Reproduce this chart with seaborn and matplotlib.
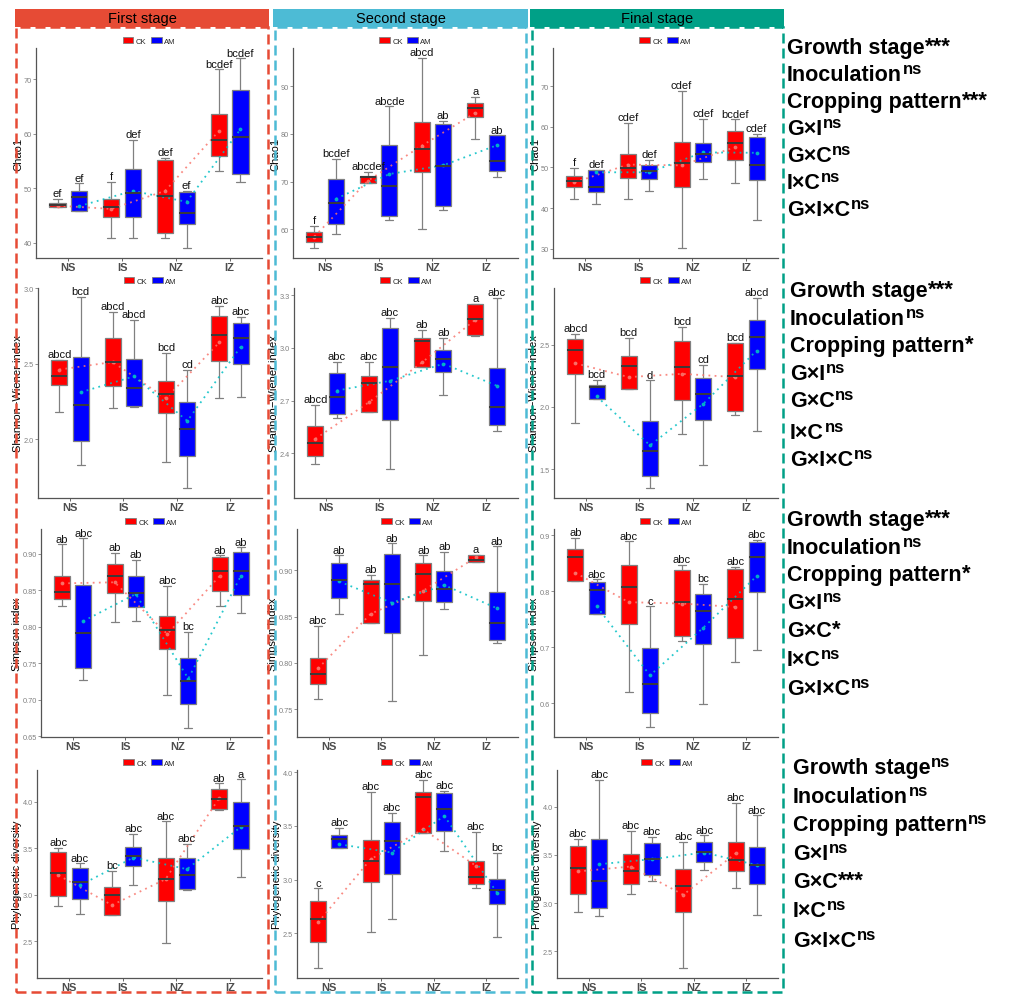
import numpy as np
import pandas as pd
import matplotlib
matplotlib.use("Agg")
import matplotlib.pyplot as plt
import seaborn as sns
from matplotlib.patches import Rectangle, Patch

# ---------------- data ----------------
groups = ["NS", "IS", "NZ", "IZ"]
treatments = ["CK", "AM"]
stages = ["First stage", "Second stage", "Final stage"]
metric_labels = ["Chao1", "Shannon\u2212Wiener index", "Simpson index", "Phylogenetic diversity"]

# box stats per group: [min, q1, median, q3, max]
chao1_s1_ck = [[46.5, 46.5, 46.85, 47.2, 48.0], [40.9, 44.7, 46.5, 48.0, 51.2], [40.9, 41.7, 48.5, 55.1, 55.6], [53.1, 55.9, 58.9, 63.6, 71.8]]
chao1_s1_am = [[45.8, 45.8, 48.4, 49.5, 50.9], [40.9, 44.7, 49.1, 53.6, 58.8], [39.0, 43.4, 45.5, 49.3, 49.5], [51.1, 52.6, 59.4, 68.0, 73.8]]
chao1_s1_ck_mean = [46.8, 46.2, 49.5, 60.5]
chao1_s1_am_mean = [46.7, 49.5, 47.5, 60.8]
chao1_s1_ck_sig = ["ef", "f", "def", "bcdef"]
chao1_s1_am_sig = ["ef", "def", "ef", "bcdef"]

chao1_s2_ck = [[56.0, 57.4, 58.5, 59.5, 60.8], [69.7, 69.7, 70.9, 71.2, 72.0], [60.1, 72.1, 76.9, 82.4, 95.9], [79.0, 83.5, 85.5, 86.4, 87.8]]
chao1_s2_am = [[59.0, 61.2, 65.5, 70.6, 74.8], [62.0, 62.7, 69.0, 77.7, 85.8], [64.1, 64.8, 73.3, 82.1, 82.8], [71.0, 72.3, 74.3, 79.7, 79.7]]
chao1_s2_ck_mean = [58.5, 70.2, 77.5, 84.4]
chao1_s2_am_mean = [66.4, 71.6, 73.4, 77.6]
chao1_s2_ck_sig = ["f", "abcdef", "abcd", "a"]
chao1_s2_am_sig = ["bcdef", "abcde", "ab", "ab"]

chao1_s3_ck = [[42.2, 45.1, 46.7, 47.8, 49.9], [42.2, 47.3, 49.9, 53.4, 61.0], [30.1, 45.1, 51.0, 56.2, 68.9], [46.2, 51.8, 56.0, 58.9, 61.8]]
chao1_s3_am = [[41.1, 44.0, 45.1, 49.4, 49.4], [44.1, 47.2, 49.1, 50.5, 51.8], [47.2, 51.4, 53.4, 55.9, 62.0], [37.1, 46.8, 50.5, 57.4, 58.3]]
chao1_s3_ck_mean = [46.3, 50.7, 50.5, 55.0]
chao1_s3_am_mean = [48.8, 48.8, 53.7, 53.6]
chao1_s3_ck_sig = ["f", "cdef", "cdef", "bcdef"]
chao1_s3_am_sig = ["def", "def", "cdef", "cdef"]

shannon_s1_ck = [[2.18, 2.355, 2.42, 2.525, 2.525], [2.205, 2.35, 2.51, 2.67, 2.84], [1.85, 2.17, 2.30, 2.385, 2.57], [2.27, 2.515, 2.69, 2.815, 2.88]]
shannon_s1_am = [[1.83, 1.99, 2.225, 2.54, 2.94], [2.215, 2.22, 2.335, 2.53, 2.79], [1.675, 1.89, 2.07, 2.245, 2.46], [2.28, 2.50, 2.67, 2.77, 2.81]]
shannon_s1_ck_mean = [2.46, 2.51, 2.27, 2.64]
shannon_s1_am_mean = [2.31, 2.415, 2.12, 2.61]
shannon_s1_ck_sig = ["abcd", "abcd", "bcd", "abc"]
shannon_s1_am_sig = ["bcd", "abcd", "cd", "abc"]

shannon_s2_ck = [[2.34, 2.385, 2.457, 2.555, 2.677], [2.638, 2.638, 2.80, 2.84, 2.92], [2.892, 2.892, 3.04, 3.057, 3.104], [3.068, 3.074, 3.164, 3.25, 3.25]]
shannon_s2_am = [[2.60, 2.625, 2.72, 2.855, 2.92], [2.313, 2.59, 2.89, 3.115, 3.17], [2.73, 2.86, 2.934, 2.99, 3.055], [2.525, 2.56, 2.662, 2.887, 3.285]]
shannon_s2_ck_mean = [2.483, 2.69, 2.917, 3.16]
shannon_s2_am_mean = [2.757, 2.813, 2.91, 2.785]
shannon_s2_ck_sig = ["abcd", "abc", "ab", "a"]
shannon_s2_am_sig = ["abc", "abc", "ab", "abc"]

shannon_s3_ck = [[1.873, 2.263, 2.455, 2.543, 2.585], [2.145, 2.145, 2.324, 2.41, 2.553], [1.785, 2.052, 2.316, 2.529, 2.639], [1.932, 1.969, 2.244, 2.51, 2.516]]
shannon_s3_am = [[2.06, 2.06, 2.156, 2.177, 2.217], [1.35, 1.449, 1.644, 1.887, 2.212], [1.535, 1.895, 2.105, 2.23, 2.337], [1.807, 2.30, 2.561, 2.70, 2.876]]
shannon_s3_ck_mean = [2.35, 2.239, 2.265, 2.239]
shannon_s3_am_mean = [2.084, 1.692, 2.025, 2.452]
shannon_s3_ck_sig = ["abcd", "bcd", "bcd", "bcd"]
shannon_s3_am_sig = ["bcd", "d", "cd", "abcd"]

simpson_s1_ck = [[0.829, 0.838, 0.848, 0.870, 0.913], [0.806, 0.846, 0.870, 0.886, 0.901], [0.7065, 0.769, 0.796, 0.815, 0.856], [0.828, 0.849, 0.876, 0.896, 0.898]]
simpson_s1_am = [[0.727, 0.743, 0.792, 0.857, 0.921], [0.8085, 0.827, 0.846, 0.869, 0.892], [0.661, 0.694, 0.726, 0.7575, 0.793], [0.8185, 0.8435, 0.876, 0.902, 0.909]]
simpson_s1_ck_mean = [0.8595, 0.861, 0.790, 0.870]
simpson_s1_am_mean = [0.8076, 0.845, 0.729, 0.870]
simpson_s1_ck_sig = ["ab", "ab", "abc", "ab"]
simpson_s1_am_sig = ["abc", "ab", "bc", "ab"]

simpson_s2_ck = [[0.761, 0.777, 0.788, 0.805, 0.840], [0.843, 0.843, 0.885, 0.889, 0.895], [0.809, 0.867, 0.896, 0.908, 0.916], [0.909, 0.909, 0.911, 0.917, 0.917]]
simpson_s2_am = [[0.8525, 0.870, 0.890, 0.908, 0.916], [0.759, 0.8325, 0.885, 0.9175, 0.929], [0.858, 0.866, 0.880, 0.899, 0.920], [0.821, 0.825, 0.843, 0.877, 0.926]]
simpson_s2_ck_mean = [0.794, 0.853, 0.878, 0.914]
simpson_s2_am_mean = [0.888, 0.865, 0.884, 0.859]
simpson_s2_ck_sig = ["abc", "ab", "ab", "a"]
simpson_s2_am_sig = ["ab", "ab", "ab", "ab"]

simpson_s3_ck = [[0.819, 0.819, 0.861, 0.876, 0.895], [0.6195, 0.742, 0.808, 0.847, 0.889], [0.712, 0.720, 0.780, 0.8385, 0.847], [0.673, 0.716, 0.786, 0.840, 0.843]]
simpson_s3_am = [[0.760, 0.760, 0.803, 0.816, 0.821], [0.557, 0.583, 0.634, 0.699, 0.773], [0.598, 0.705, 0.7645, 0.795, 0.813], [0.695, 0.799, 0.861, 0.888, 0.892]]
simpson_s3_ck_mean = [0.833, 0.7805, 0.778, 0.772]
simpson_s3_am_mean = [0.773, 0.650, 0.735, 0.827]
simpson_s3_ck_sig = ["ab", "abc", "abc", "abc"]
simpson_s3_am_sig = ["abc", "c", "bc", "abc"]

pd_s1_ck = [[2.882, 2.982, 3.232, 3.464, 3.504], [2.786, 2.786, 2.996, 3.079, 3.257], [2.482, 2.929, 3.171, 3.393, 3.789], [3.911, 3.925, 4.025, 4.139, 4.196]]
pd_s1_am = [[2.789, 2.954, 3.139, 3.286, 3.336], [3.107, 3.311, 3.421, 3.514, 3.657], [3.046, 3.064, 3.211, 3.40, 3.55], [3.196, 3.489, 3.743, 4.0, 4.239]]
pd_s1_ck_mean = [3.21, 2.889, 3.168, 4.036]
pd_s1_am_mean = [3.10, 3.40, 3.275, 3.725]
pd_s1_ck_sig = ["abc", "bc", "abc", "ab"]
pd_s1_am_sig = ["abc", "abc", "abc", "a"]

pd_s2_ck = [[2.175, 2.423, 2.633, 2.803, 2.918], [2.509, 2.976, 3.174, 3.372, 3.818], [3.437, 3.437, 3.768, 3.815, 3.926], [2.918, 2.958, 3.026, 3.171, 3.443]]
pd_s2_am = [[3.292, 3.292, 3.375, 3.419, 3.481], [2.633, 3.057, 3.357, 3.536, 3.623], [3.264, 3.45, 3.66, 3.808, 3.827], [2.469, 2.778, 2.905, 3.01, 3.252]]
pd_s2_ck_mean = [2.602, 3.19, 3.468, 3.128]
pd_s2_am_mean = [3.329, 3.252, 3.592, 2.88]
pd_s2_ck_sig = ["c", "abc", "abc", "abc"]
pd_s2_am_sig = ["abc", "abc", "abc", "bc"]

pd_s3_ck = [[2.903, 3.093, 3.362, 3.593, 3.669], [3.093, 3.203, 3.328, 3.507, 3.752], [2.328, 2.907, 3.179, 3.352, 3.634], [3.152, 3.331, 3.448, 3.631, 4.041]]
pd_s3_am = [[2.869, 2.952, 3.224, 3.669, 4.276], [3.231, 3.286, 3.455, 3.621, 3.69], [3.345, 3.421, 3.534, 3.638, 3.703], [2.876, 3.193, 3.39, 3.586, 3.91]]
pd_s3_ck_mean = [3.328, 3.379, 3.086, 3.517]
pd_s3_am_mean = [3.403, 3.455, 3.524, 3.393]
pd_s3_ck_sig = ["abc", "abc", "abc", "abc"]
pd_s3_am_sig = ["abc", "abc", "abc", "abc"]

# significance text blocks (right side)
effects = ["Growth stage", "Inoculation", "Cropping pattern", "G\u00d7I", "G\u00d7C", "I\u00d7C", "G\u00d7I\u00d7C"]
chao1_effects_sig = ["***", "ns", "***", "ns", "ns", "ns", "ns"]
shannon_effects_sig = ["***", "ns", "*", "ns", "ns", "ns", "ns"]
simpson_effects_sig = ["***", "ns", "*", "ns", "*", "ns", "ns"]
pd_effects_sig = ["ns", "ns", "ns", "ns", "***", "ns", "ns"]

# ---------------- style ----------------
sns.set_theme(style="white")
plt.rcParams["font.family"] = ["Liberation Sans", "DejaVu Sans"]

W, H = 1014, 995
fig = plt.figure(figsize=(W / 100, H / 100), dpi=100)

stage_colors = ["#E64B35", "#4DBBD5", "#00A087"]
box_pal = {"CK": "#FF0000", "AM": "#0000FF"}
line_pal = {"CK": "#F8766D", "AM": "#00BFC4"}


def fx(x):
    return x / W


def fy(y):
    return 1 - y / H


panels = [
    [(chao1_s1_ck, chao1_s1_am, chao1_s1_ck_mean, chao1_s1_am_mean, chao1_s1_ck_sig, chao1_s1_am_sig),
     (chao1_s2_ck, chao1_s2_am, chao1_s2_ck_mean, chao1_s2_am_mean, chao1_s2_ck_sig, chao1_s2_am_sig),
     (chao1_s3_ck, chao1_s3_am, chao1_s3_ck_mean, chao1_s3_am_mean, chao1_s3_ck_sig, chao1_s3_am_sig)],
    [(shannon_s1_ck, shannon_s1_am, shannon_s1_ck_mean, shannon_s1_am_mean, shannon_s1_ck_sig, shannon_s1_am_sig),
     (shannon_s2_ck, shannon_s2_am, shannon_s2_ck_mean, shannon_s2_am_mean, shannon_s2_ck_sig, shannon_s2_am_sig),
     (shannon_s3_ck, shannon_s3_am, shannon_s3_ck_mean, shannon_s3_am_mean, shannon_s3_ck_sig, shannon_s3_am_sig)],
    [(simpson_s1_ck, simpson_s1_am, simpson_s1_ck_mean, simpson_s1_am_mean, simpson_s1_ck_sig, simpson_s1_am_sig),
     (simpson_s2_ck, simpson_s2_am, simpson_s2_ck_mean, simpson_s2_am_mean, simpson_s2_ck_sig, simpson_s2_am_sig),
     (simpson_s3_ck, simpson_s3_am, simpson_s3_ck_mean, simpson_s3_am_mean, simpson_s3_ck_sig, simpson_s3_am_sig)],
    [(pd_s1_ck, pd_s1_am, pd_s1_ck_mean, pd_s1_am_mean, pd_s1_ck_sig, pd_s1_am_sig),
     (pd_s2_ck, pd_s2_am, pd_s2_ck_mean, pd_s2_am_mean, pd_s2_ck_sig, pd_s2_am_sig),
     (pd_s3_ck, pd_s3_am, pd_s3_ck_mean, pd_s3_am_mean, pd_s3_ck_sig, pd_s3_am_sig)],
]

ylims = [
    [(37.2, 75.7), (54.0, 98.0), (27.7, 79.4)],
    [(1.61, 3.0), (2.147, 3.34), (1.27, 2.953)],
    [(0.649, 0.934), (0.72, 0.9446), (0.540, 0.911)],
    [(2.107, 4.339), (2.086, 4.019), (2.224, 4.379)],
]
yticks = [
    [[40, 50, 60, 70], [60, 70, 80, 90], [30, 40, 50, 60, 70]],
    [[2.0, 2.5, 3.0], [2.4, 2.7, 3.0, 3.3], [1.5, 2.0, 2.5]],
    [[0.65, 0.70, 0.75, 0.80, 0.85, 0.90], [0.75, 0.80, 0.85, 0.90], [0.6, 0.7, 0.8, 0.9]],
    [[2.5, 3.0, 3.5, 4.0], [2.5, 3.0, 3.5, 4.0], [2.5, 3.0, 3.5, 4.0]],
]
ytick_fmt = [["{:.0f}"] * 3, ["{:.1f}"] * 3, ["{:.2f}", "{:.2f}", "{:.1f}"], ["{:.1f}"] * 3]

rows_px = [(49, 259), (289, 499), (530, 738), (771, 979)]
lefts_px = [[36, 293, 553], [38, 294, 554], [41, 297, 554], [37, 297, 557]]
rights_px = [262, 518, 778]

dodge_off = 0.2

for r in range(4):
    for c in range(3):
        ck, am, ckm, amm, cks, ams = panels[r][c]
        top, bot = rows_px[r]
        left = lefts_px[r][c]
        right = rights_px[c]
        ax = fig.add_axes([fx(left), fy(bot), (right - left) / W, (bot - top) / H])

        recs = []
        for t, stats in (("CK", ck), ("AM", am)):
            for g, vals in zip(groups, stats):
                for v in vals:
                    recs.append((g, t, v))
        df = pd.DataFrame(recs, columns=["group", "treat", "value"])
        mrecs = [(g, "CK", m) for g, m in zip(groups, ckm)] + [(g, "AM", m) for g, m in zip(groups, amm)]
        mdf = pd.DataFrame(mrecs, columns=["group", "treat", "value"])

        sns.boxplot(data=df, x="group", y="value", hue="treat", order=groups, hue_order=treatments,
                    palette=box_pal, whis=(0, 100), width=0.8, gap=0.25, saturation=1,
                    linecolor="#808080", linewidth=0.9, fliersize=0,
                    medianprops=dict(color="#3a3a3a", linewidth=1.4),
                    ax=ax, legend=False)
        n_before = len(ax.lines)
        sns.pointplot(data=mdf, x="group", y="value", hue="treat", order=groups, hue_order=treatments,
                      palette=line_pal, dodge=2 * dodge_off, markers="o", errorbar=None,
                      markersize=1.8, linewidth=1.3, ax=ax, legend=False)
        for ln in ax.lines[n_before:]:
            ln.set_linestyle((0, (1, 2.4)))
            ln.set_alpha(0.85)

        # significance letters
        for i in range(4):
            for off, stats, sig in ((-dodge_off, ck, cks), (dodge_off, am, ams)):
                ax.annotate(sig[i], xy=(i + off, stats[i][4]), xytext=(0, 0.5),
                            textcoords="offset points", ha="center", va="bottom",
                            fontsize=8, color="#111111")

        ax.set_xlim(-0.6, 3.6)
        ax.set_ylim(*ylims[r][c])
        ax.set_yticks(yticks[r][c])
        ax.set_yticklabels([ytick_fmt[r][c].format(v) for v in yticks[r][c]])
        ax.set_xlabel("")
        ax.set_ylabel(metric_labels[r], fontsize=8, color="black", labelpad=0.5)
        ax.tick_params(axis="y", labelsize=5.3, labelcolor="#808080", length=2, width=0.6,
                       color="#808080", pad=1, left=True)
        ax.tick_params(axis="x", labelsize=8, labelcolor="#4D4D4D", length=2, width=0.6,
                       color="#4D4D4D", pad=1, bottom=True)
        for lab in ax.get_xticklabels():
            lab.set_fontweight("bold")
        for s in ["top", "right"]:
            ax.spines[s].set_visible(False)
        for s in ["left", "bottom"]:
            ax.spines[s].set_color("#555555")
            ax.spines[s].set_linewidth(0.9)
        ax.set_facecolor("white")

        handles = [Patch(facecolor=box_pal[t], edgecolor="#808080", linewidth=0.6) for t in treatments]
        ax.legend(handles, treatments, loc="lower center", bbox_to_anchor=(0.5, 1.0), ncol=2,
                  frameon=False, fontsize=5.5, handlelength=1.4, handleheight=0.9,
                  columnspacing=0.6, handletextpad=0.3, borderaxespad=0.35, borderpad=0.1)

# stage strips and dashed borders
strips = [(15, 269), (273, 528), (530, 784)]
borders = [(16, 268), (275, 526), (532, 783)]
for k in range(3):
    x0, x1 = strips[k]
    fig.add_artist(Rectangle((fx(x0), fy(28)), (x1 - x0) / W, 18 / H, transform=fig.transFigure,
                             facecolor=stage_colors[k], edgecolor="none", zorder=5))
    fig.text(fx((x0 + x1) / 2), fy(19), stages[k], ha="center", va="center", fontsize=10.5,
             color="black", zorder=6)
    b0, b1 = borders[k]
    fig.add_artist(Rectangle((fx(b0), fy(993)), (b1 - b0) / W, (993 - 28) / H, transform=fig.transFigure,
                             facecolor="none", edgecolor=stage_colors[k], linewidth=1.8,
                             linestyle=(0, (4, 2)), zorder=4))

# right-hand significance text
blocks = [
    (787, [47, 74, 101, 128, 155, 182, 209], chao1_effects_sig),
    (790, [290, 318, 345, 373, 400, 432, 459], shannon_effects_sig),
    (787, [519, 547, 574, 602, 630, 659, 688], simpson_effects_sig),
    (793, [767, 796, 824, 853, 881, 910, 940], pd_effects_sig),
]
main_texts = []
for x0, ys, sigs in blocks:
    for name, yc, sg in zip(effects, ys, sigs):
        base_px = yc + 7
        t = fig.text(fx(x0), fy(base_px), name, ha="left", va="baseline", fontsize=15.5,
                     fontweight="bold", color="black")
        main_texts.append((t, sg, base_px))

fig.canvas.draw()
renderer = fig.canvas.get_renderer()
for t, sg, base_px in main_texts:
    bb = t.get_window_extent(renderer)
    if sg == "ns":
        fig.text((bb.x1 + 0.5) / W, fy(base_px - 7), sg, ha="left", va="baseline",
                 fontsize=12, fontweight="bold", color="black")
    else:
        fig.text((bb.x1 + 0.5) / W, fy(base_px - 1), sg, ha="left", va="baseline",
                 fontsize=16, fontweight="bold", color="black")

fig.savefig("out.png", dpi=100, facecolor="white")
